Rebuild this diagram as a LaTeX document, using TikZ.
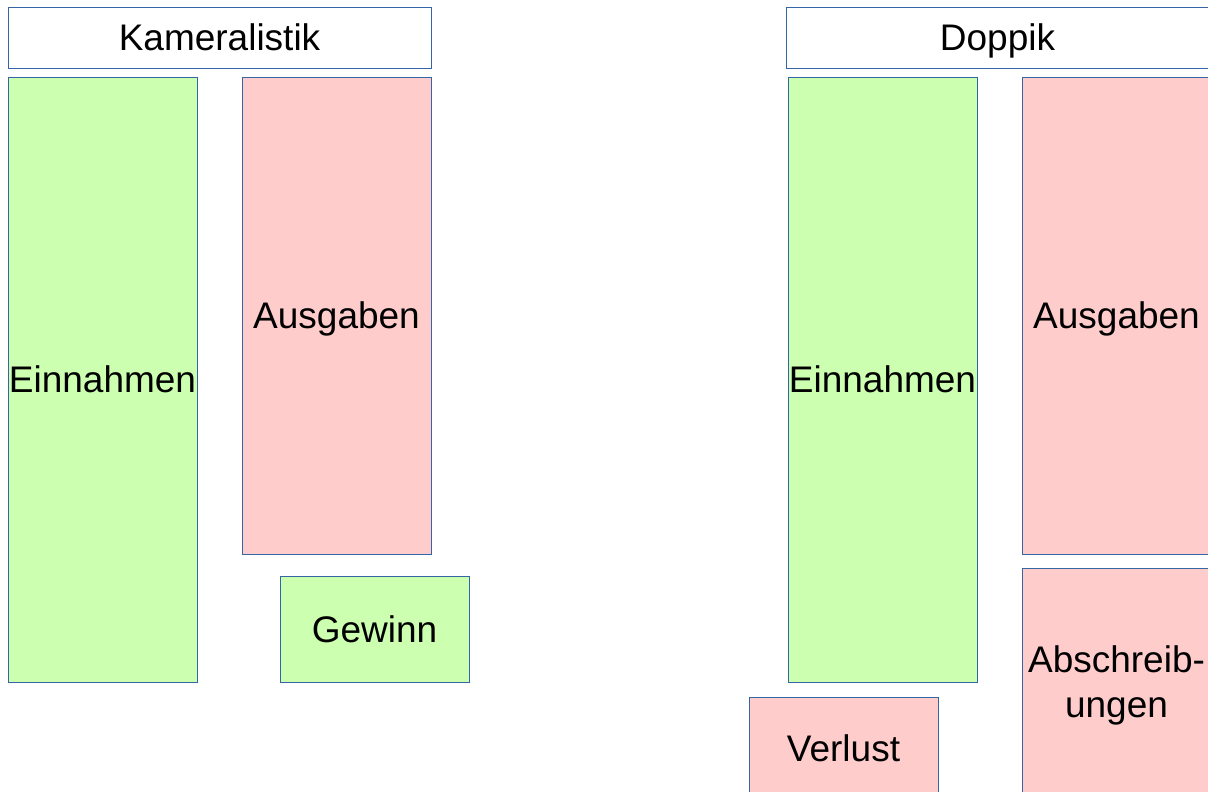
\documentclass[tikz,border=0pt]{standalone}
\usepackage{fontspec}
\setmainfont{Liberation Sans}
\definecolor{boxblue}{HTML}{3465A4}
\definecolor{boxgreen}{HTML}{CCFFAF}
\definecolor{boxpink}{HTML}{FFCCCC}
\begin{document}
\begin{tikzpicture}[x=1pt,y=-1pt,
  box/.style={draw=boxblue,line width=0.9pt,rectangle,inner sep=0pt,align=center,
    font=\fontsize{37}{45}\selectfont},
  one/.style={text height=26.5pt,text depth=0pt},
  head/.style={box,one,fill=white},
  gbox/.style={box,one,fill=boxgreen},
  pbox/.style={box,one,fill=boxpink},
  pmulti/.style={box,fill=boxpink}]
\path[use as bounding box] (0,0) rectangle (1208,792);
\clip (0,0) rectangle (1208,792);
% Kameralistik
\node[head,minimum width=423pt,minimum height=61pt] (kh) at (219.5,37.5) {Kameralistik};
\node[gbox,minimum width=189pt,minimum height=605pt] (ke) at (102.5,379.5) {Einnahmen};
\node[pbox,minimum width=189pt,minimum height=477pt] (ka) at (336.5,315.5) {Ausgaben};
\node[gbox,minimum width=189pt,minimum height=106pt] (kg) at (374.5,629) {Gewinn};
% Doppik
\node[head,minimum width=423pt,minimum height=61pt] (dh) at (997.5,37.5) {Doppik};
\node[gbox,minimum width=189pt,minimum height=605pt] (de) at (882.5,379.5) {Einnahmen};
\node[pbox,minimum width=189pt,minimum height=477pt] (da) at (1116.5,315.5) {Ausgaben};
\node[pmulti,minimum width=189pt,minimum height=234pt] (dab) at (1116.5,685) {Abschreib-\\ungen};
\node[pbox,minimum width=189pt,minimum height=102pt] (dv) at (843.5,748) {Verlust};
\end{tikzpicture}
\end{document}
